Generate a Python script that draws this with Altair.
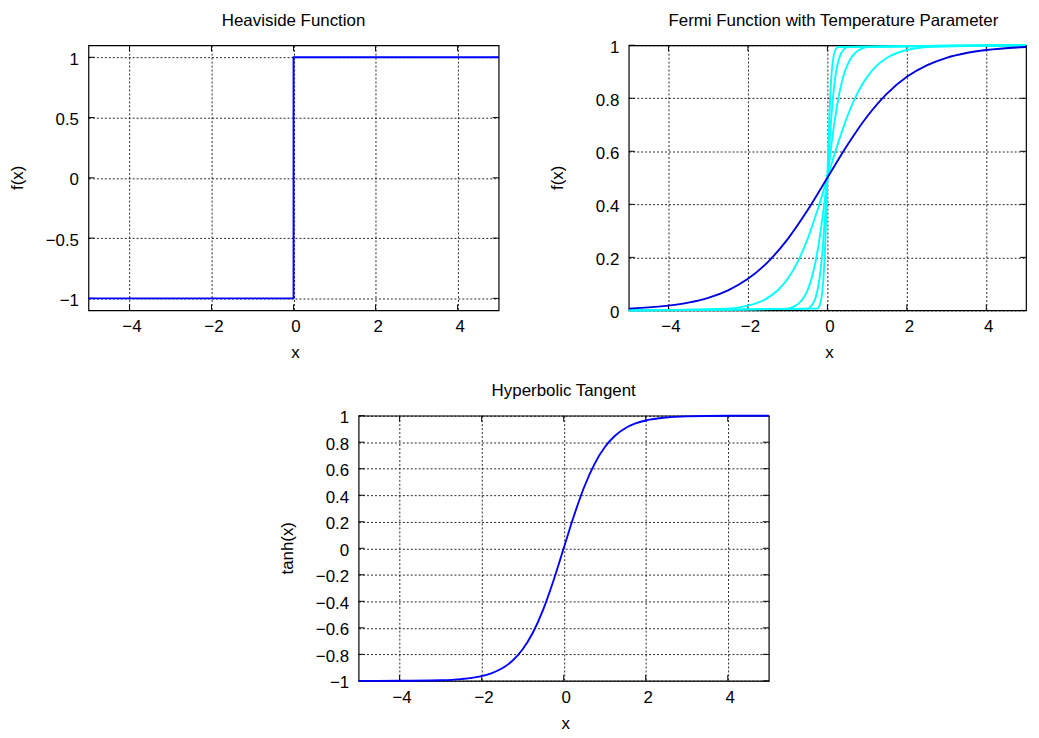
import altair as alt
import pandas as pd

FONT = "Liberation Sans"

# ---------------- data ----------------
panel_titles = ["Heaviside Function", "Fermi Function with Temperature Parameter", "Hyperbolic Tangent"]
y_titles = ["f(x)", "f(x)", "tanh(x)"]
x_title = "x"

x_ticks = [-4, -2, 0, 2, 4]
heav_y_ticks = [-1, -0.5, 0, 0.5, 1]
fermi_y_ticks = [0, 0.2, 0.4, 0.6, 0.8, 1]
tanh_y_ticks = [-1, -0.8, -0.6, -0.4, -0.2, 0, 0.2, 0.4, 0.6, 0.8, 1]

step_x = [-5, 0, 0, 5]
step_y = [-1, -1, 1, 1]

blue_x = [-5, -4, -3.5, -3, -2.5, -2, -1.5, -1, -0.5, 0, 0.5, 1, 1.5, 2, 2.5, 3, 3.5, 4, 5]
blue_y = [0.0067, 0.0180, 0.0293, 0.0474, 0.0759, 0.1192, 0.1824, 0.2689, 0.3775, 0.5,
          0.6225, 0.7311, 0.8176, 0.8808, 0.9241, 0.9526, 0.9707, 0.9820, 0.9933]

cyan_y = [0.0, 0.0067, 0.0180, 0.0293, 0.0474, 0.0759, 0.1192, 0.1824, 0.2689, 0.3775, 0.5,
          0.6225, 0.7311, 0.8176, 0.8808, 0.9241, 0.9526, 0.9707, 0.9820, 0.9933, 1.0]
cyan_x_a = [-5, -2.5, -2, -1.75, -1.5, -1.25, -1, -0.75, -0.5, -0.25, 0,
            0.25, 0.5, 0.75, 1, 1.25, 1.5, 1.75, 2, 2.5, 5]
cyan_x_b = [-5, -1, -0.8, -0.7, -0.6, -0.5, -0.4, -0.3, -0.2, -0.1, 0,
            0.1, 0.2, 0.3, 0.4, 0.5, 0.6, 0.7, 0.8, 1, 5]
cyan_x_c = [-5, -0.5, -0.4, -0.35, -0.3, -0.25, -0.2, -0.15, -0.1, -0.05, 0,
            0.05, 0.1, 0.15, 0.2, 0.25, 0.3, 0.35, 0.4, 0.5, 5]
cyan_x_d = [-5, -0.25, -0.2, -0.175, -0.15, -0.125, -0.1, -0.075, -0.05, -0.025, 0,
            0.025, 0.05, 0.075, 0.1, 0.125, 0.15, 0.175, 0.2, 0.25, 5]

tanh_x = [-5, -4, -3, -2.5, -2, -1.75, -1.5, -1.25, -1, -0.75, -0.5, -0.25, 0,
          0.25, 0.5, 0.75, 1, 1.25, 1.5, 1.75, 2, 2.5, 3, 4, 5]
tanh_y = [-0.9999, -0.9993, -0.9951, -0.9866, -0.9640, -0.9414, -0.9051, -0.8483, -0.7616,
          -0.6351, -0.4621, -0.2449, 0, 0.2449, 0.4621, 0.6351, 0.7616, 0.8483, 0.9051,
          0.9414, 0.9640, 0.9866, 0.9951, 0.9993, 0.9999]

# ---------------- tables ----------------
step_df = pd.DataFrame({"x": step_x, "y": step_y, "i": list(range(len(step_x)))})
blue_df = pd.DataFrame({"x": blue_x, "y": blue_y})
cyan_rows = []
for name, xs in [("a", cyan_x_a), ("b", cyan_x_b), ("c", cyan_x_c), ("d", cyan_x_d)]:
    for xv, yv in zip(xs, cyan_y):
        cyan_rows.append({"x": xv, "y": yv, "s": name})
cyan_df = pd.DataFrame(cyan_rows)
tanh_df = pd.DataFrame({"x": tanh_x, "y": tanh_y})

LW = 1.9
TICK = 6
FS = 17


def text_layer(txt, x, y, angle=0):
    kw = dict(font=FONT, fontSize=FS, color="black", align="center", baseline="alphabetic")
    if angle:
        kw["angle"] = angle
        kw["baseline"] = "middle"
    return alt.Chart(pd.DataFrame({"t": [txt]})).mark_text(**kw).encode(
        text="t:N", x=alt.value(x), y=alt.value(y))


def make_panel(line_layers, ydom, yticks, title, ytitle, w, h, title_dx=0):
    xscale = alt.Scale(domain=[-5, 5], nice=False, zero=False)
    yscale = alt.Scale(domain=ydom, nice=False, zero=False)
    xaxis = alt.Axis(values=x_ticks, format="~g", grid=True, ticks=False, domain=False,
                     labelPadding=8.5, labelOffset=2, title=None)
    yaxis = alt.Axis(values=yticks, format="~g", grid=True, ticks=False, domain=False,
                     labelPadding=10, labelOffset=2, title=None)
    xt = pd.DataFrame({"v": x_ticks})
    yt = pd.DataFrame({"v": yticks})
    tick_top = alt.Chart(xt).mark_rule(color="black", strokeWidth=1).encode(
        x=alt.X("v:Q", scale=xscale, axis=xaxis), y=alt.value(0), y2=alt.value(TICK))
    tick_bot = alt.Chart(xt).mark_rule(color="black", strokeWidth=1).encode(
        x=alt.X("v:Q", scale=xscale, axis=xaxis), y=alt.value(h - TICK), y2=alt.value(h))
    tick_left = alt.Chart(yt).mark_rule(color="black", strokeWidth=1).encode(
        y=alt.Y("v:Q", scale=yscale, axis=yaxis), x=alt.value(0), x2=alt.value(TICK))
    tick_right = alt.Chart(yt).mark_rule(color="black", strokeWidth=1).encode(
        y=alt.Y("v:Q", scale=yscale, axis=yaxis), x=alt.value(w - TICK), x2=alt.value(w))
    layers = [tick_top, tick_bot, tick_left, tick_right]
    for df, color, kind in line_layers:
        enc = dict(x=alt.X("x:Q", scale=xscale, axis=xaxis),
                   y=alt.Y("y:Q", scale=yscale, axis=yaxis))
        if kind == "step":
            m = alt.Chart(df).mark_line(color=color, strokeWidth=LW).encode(
                order=alt.Order("i:Q"), **enc)
        elif kind == "multi":
            m = alt.Chart(df).mark_line(color=color, strokeWidth=LW, interpolate="monotone").encode(
                detail="s:N", **enc)
        else:
            m = alt.Chart(df).mark_line(color=color, strokeWidth=LW, interpolate="monotone").encode(**enc)
        layers.append(m)
    layers.append(text_layer(title, w / 2 + title_dx, -19.5))
    layers.append(text_layer(x_title, w / 2 + 2, h + 48))
    layers.append(text_layer(ytitle, -71, h / 2, angle=270))
    return alt.layer(*layers).properties(width=w, height=h)


p1 = make_panel([(step_df, "#0000ff", "step")], [-1.1, 1.1], heav_y_ticks,
                panel_titles[0], y_titles[0], 413, 267)
p2 = make_panel([(cyan_df, "#00ffff", "multi"), (blue_df, "#0000dd", "single")], [0, 1],
                fermi_y_ticks, panel_titles[1], y_titles[1], 400, 267, title_dx=6)
p3 = make_panel([(tanh_df, "#0000ff", "single")], [-1, 1], tanh_y_ticks,
                panel_titles[2], y_titles[2], 413, 267)

SP = 191
spacer = alt.Chart(pd.DataFrame({"a": [0]})).mark_rule(strokeOpacity=0).encode(
    x=alt.value(0), x2=alt.value(SP), y=alt.value(0)
).properties(width=SP, height=1, view=alt.ViewBackground(strokeOpacity=0))

top = alt.hconcat(p1, p2, spacing=45)
bottom = alt.hconcat(spacer, p3, spacing=0)
chart = alt.vconcat(top, bottom, spacing=19).properties(
    padding={"left": 0, "top": 0, "right": 0, "bottom": 0}
).configure_view(
    stroke="black", strokeWidth=1.2
).configure_axis(
    labelFont=FONT, labelFontSize=FS, labelColor="black",
    gridColor="black", gridDash=[2, 2], gridWidth=1, gridOpacity=0.85,
)

chart.save("out.html", embed_options={"renderer": "svg", "actions": False})
